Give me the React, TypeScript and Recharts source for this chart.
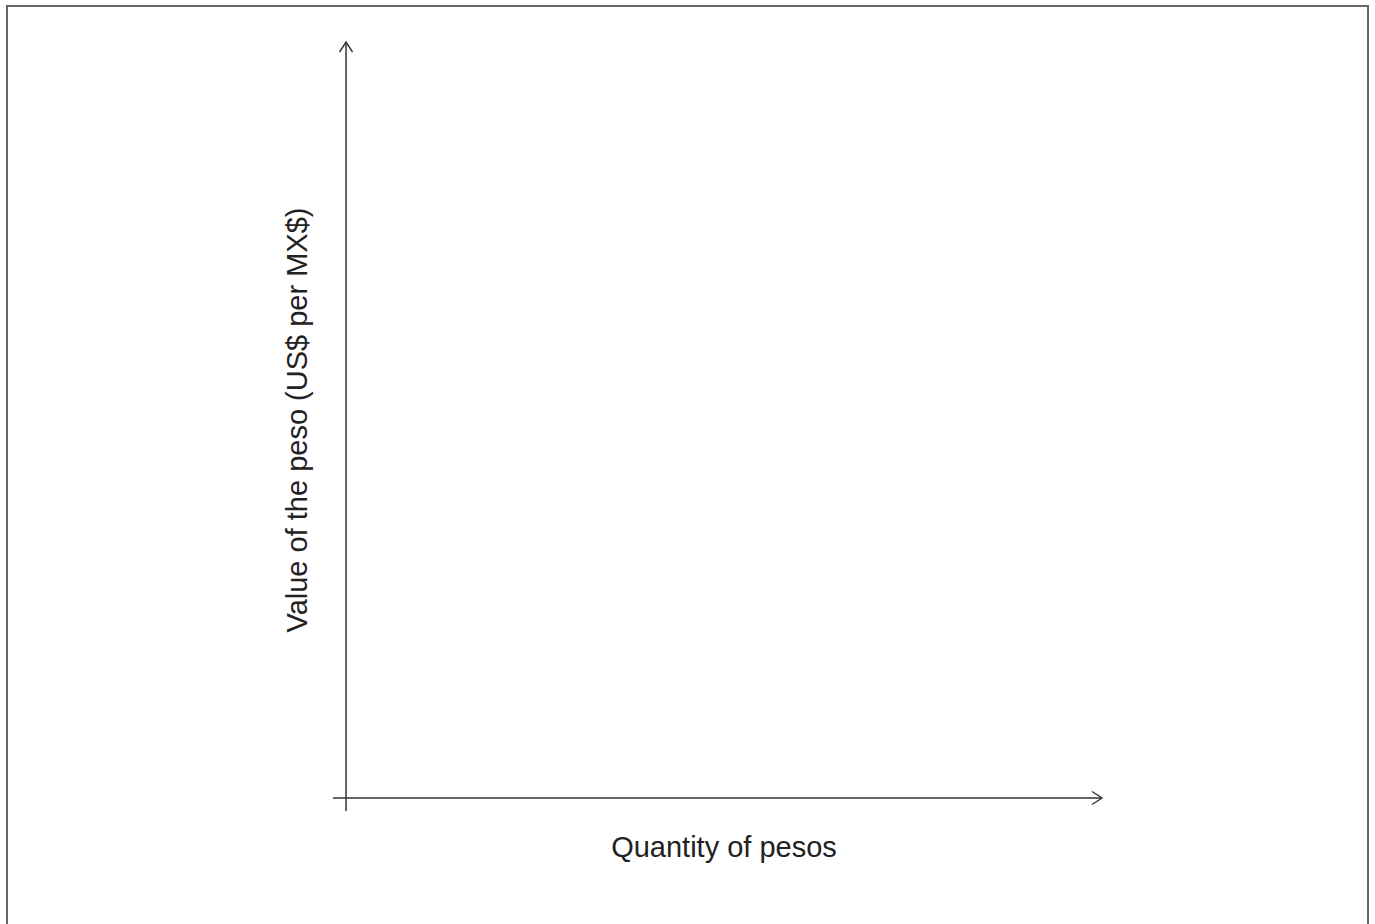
import { ScatterChart, XAxis, YAxis, ReferenceLine } from "recharts";

// axis extents, in chart units (origin sits a little inside the drawn lines)
const xDomain = [-1, 58];
const yDomain = [-1, 58];
const origin = { x: 0, y: 0 };

const xLabel = "Quantity of pesos";
const yLabel = "Value of the peso (US$ per MX$)";

const FONT = "'Liberation Sans', Arial, sans-serif";
const AXIS_COLOR = "#333333";

export default function App() {
  return (
    <div
      style={{
        position: "absolute",
        left: 0,
        top: 0,
        width: 1375,
        height: 924,
        overflow: "hidden",
        background: "#fff",
      }}
    >
      <div
        style={{
          position: "absolute",
          left: 6,
          top: 5,
          width: 1363,
          height: 960,
          border: "2px solid #666",
          boxSizing: "border-box",
        }}
      />
      <ScatterChart
        width={1375}
        height={924}
        margin={{ top: 42, right: 273, bottom: 41, left: 261 }}
        style={{ position: "absolute", left: 0, top: 0, fontFamily: FONT }}
      >
        <defs>
          <marker
            id="axisArrow"
            markerUnits="userSpaceOnUse"
            markerWidth={14}
            markerHeight={16}
            viewBox="-12 -8 14 16"
            refX={0}
            refY={0}
            orient="auto"
          >
            <path d="M-10,-6.5 L0,0 L-10,6.5" fill="none" stroke={AXIS_COLOR} strokeWidth={1.4} />
          </marker>
        </defs>
        <XAxis
          type="number"
          dataKey="x"
          domain={xDomain}
          allowDataOverflow
          height={72}
          axisLine={false}
          tickLine={false}
          tick={false}
          label={{
            value: xLabel,
            position: "center",
            dx: 6.5,
            fill: "#222",
            fontSize: 29,
            fontFamily: FONT,
          }}
        />
        <YAxis
          type="number"
          dataKey="y"
          domain={yDomain}
          allowDataOverflow
          width={72}
          axisLine={false}
          tickLine={false}
          tick={false}
          label={{
            value: yLabel,
            position: "center",
            angle: -90,
            dy: -6.5,
            fill: "#222",
            fontSize: 29,
            fontFamily: FONT,
          }}
        />
        <ReferenceLine
          segment={[
            { x: xDomain[0], y: origin.y },
            { x: xDomain[1], y: origin.y },
          ]}
          stroke={AXIS_COLOR}
          strokeWidth={1.5}
          ifOverflow="visible"
          markerEnd="url(#axisArrow)"
        />
        <ReferenceLine
          segment={[
            { x: origin.x, y: yDomain[0] },
            { x: origin.x, y: yDomain[1] },
          ]}
          stroke={AXIS_COLOR}
          strokeWidth={1.5}
          ifOverflow="visible"
          markerEnd="url(#axisArrow)"
        />
      </ScatterChart>
    </div>
  );
}
